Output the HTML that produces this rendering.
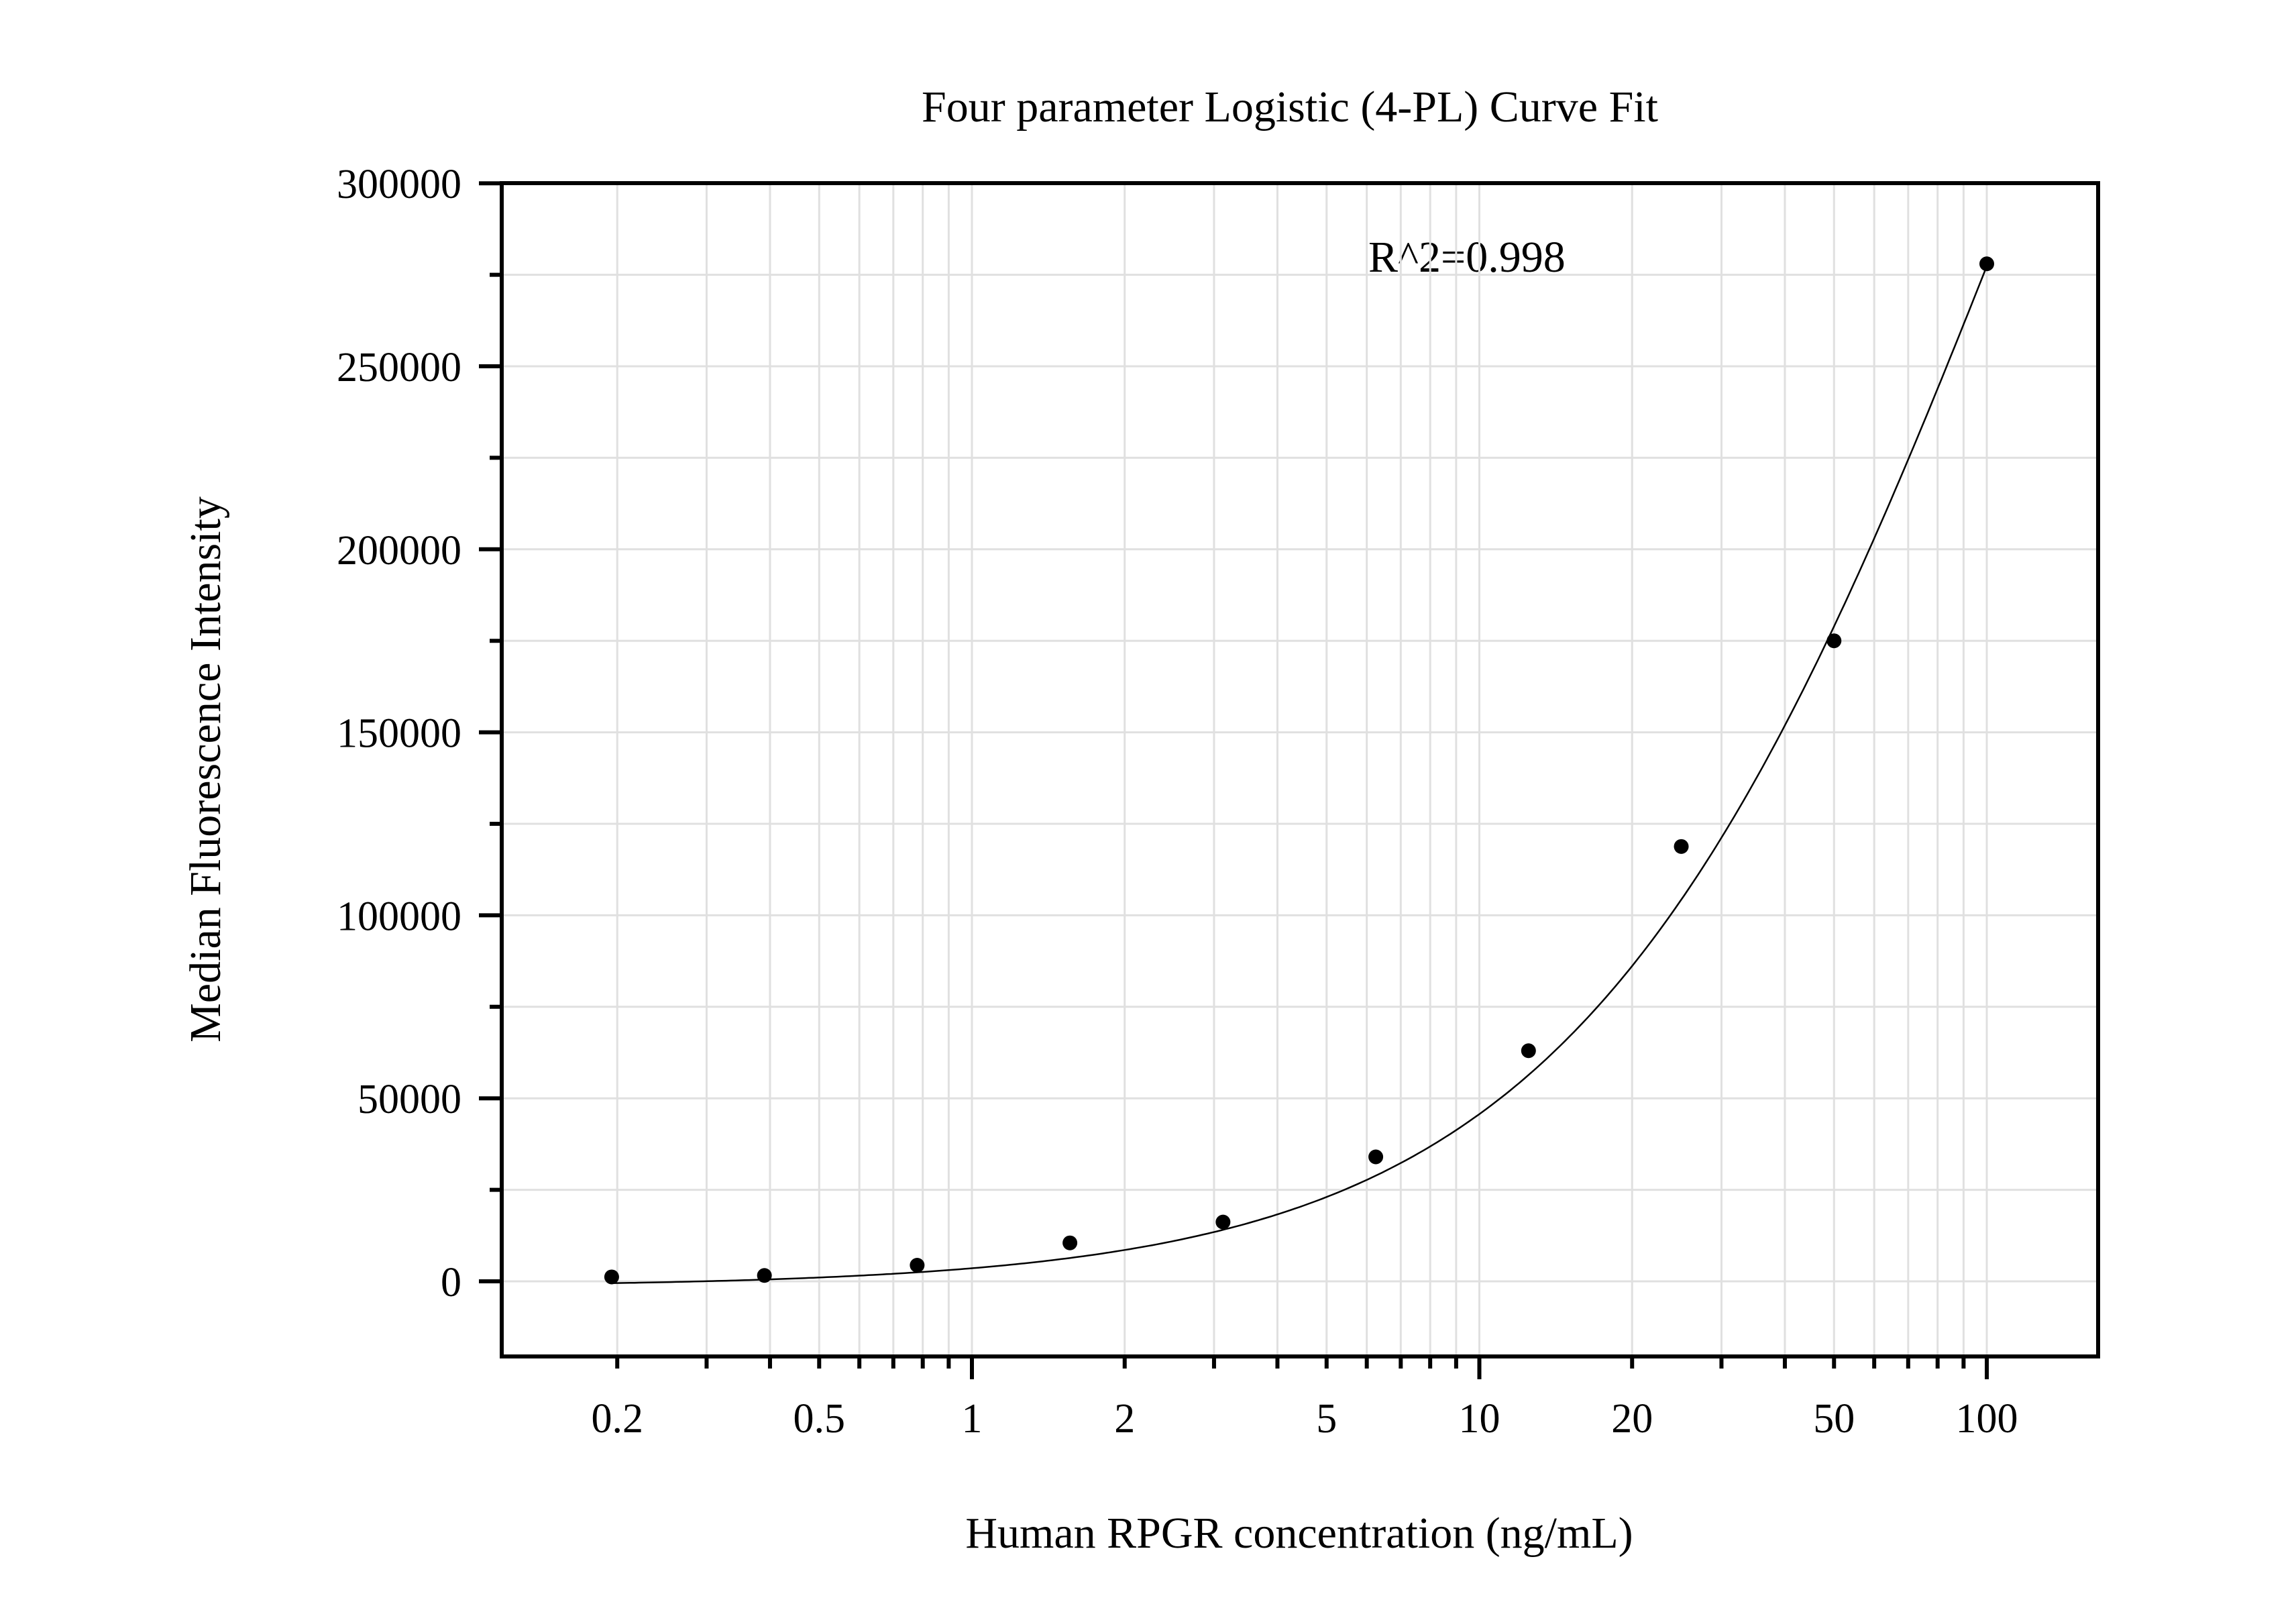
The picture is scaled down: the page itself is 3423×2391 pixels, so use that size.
<!DOCTYPE html>
<html><head><meta charset="utf-8">
<style>
html,body{margin:0;padding:0;background:#fff;}
svg{display:block;font-family:"Liberation Serif","Times New Roman",serif;}
</style></head>
<body>
<svg id="chart" width="3423" height="2391" viewBox="0 0 3423 2391" xmlns="http://www.w3.org/2000/svg">
<rect width="3423" height="2391" fill="#fff"/>
<text x="1923" y="181" font-size="66" text-anchor="middle">Four parameter Logistic (4-PL) Curve Fit</text>
<text x="2040" y="405" font-size="66">R^2=0.998</text>
<text x="1937" y="2307" font-size="66" text-anchor="middle">Human RPGR concentration (ng/mL)</text>
<text transform="translate(328,1147) rotate(-90)" font-size="66" text-anchor="middle">Median Fluorescence Intensity</text>
<g id="grid"></g>
<g id="marks"></g>
<g id="axes"></g>
</svg>
<script>
const concentrations = [0.195, 0.39, 0.78, 1.56, 3.125, 6.25, 12.5, 25, 50, 100];
const mfiValues = [1200, 1600, 4400, 10500, 16200, 34000, 63000, 118800, 175000, 278000];
const fitParams = [-1500, 1.0, 120, 612000]; // A, B, C, D
const xTickLabels = ["0.2", "0.5", "1", "2", "5", "10", "20", "50", "100"];
const xMajorDecades = [1, 10, 100];
const yTickLabels = ["0", "50000", "100000", "150000", "200000", "250000", "300000"];

const L = 748, R = 3128, T = 273, B = 2022;
const X1 = 1449, DEC = 756.5;
const Y0 = 1910, YPER = 272.8 / 50000;
const sx = v => X1 + Math.log10(v) * DEC;
const sy = v => Y0 - v * YPER;
const NS = "http://www.w3.org/2000/svg";
function mk(tag, attrs, parent) {
  const e = document.createElementNS(NS, tag);
  for (const k in attrs) e.setAttribute(k, attrs[k]);
  parent.appendChild(e);
  return e;
}
const grid = document.getElementById('grid');
const marks = document.getElementById('marks');
const axes = document.getElementById('axes');

// x minor values
const xMinors = [];
for (let d = 0.1; d <= 100; d *= 10) {
  for (let m = 1; m <= 9; m++) {
    const v = +(m * d).toPrecision(3);
    if (sx(v) > L + 3 && sx(v) < R - 3) xMinors.push(v);
  }
}
xMinors.forEach(v => {
  const g = mk('line', {x1: sx(v), x2: sx(v), y1: T, y2: B, stroke: '#e0e0e0', 'stroke-width': 3}, grid);
  
  
  const major = xMajorDecades.includes(v);
  const t = mk('line', {x1: sx(v), x2: sx(v), y1: B, y2: B + (major ? 34 : 18), stroke: '#000', 'stroke-width': 6}, axes);
  
  
});
xTickLabels.forEach(s => {
  const t = mk('text', {x: sx(parseFloat(s)), y: 2135, 'font-size': 62, 'text-anchor': 'middle'}, axes);
  t.textContent = s;
  
  
});
// y ticks
for (let v = -25000; v <= 300000; v += 25000) {
  const y = sy(v);
  if (y > B || y < T - 1) continue;
  const major = v % 50000 === 0;
  if (y > T + 3) {
    const g = mk('line', {x1: L, x2: R, y1: y, y2: y, stroke: '#e0e0e0', 'stroke-width': 3}, grid);
    
    
  }
  const t = mk('line', {x1: L - (major ? 34 : 18), x2: L, y1: y, y2: y, stroke: '#000', 'stroke-width': 6}, axes);
  
  
}
yTickLabels.forEach(s => {
  const t = mk('text', {x: 688, y: sy(parseFloat(s)) + 22, 'font-size': 62, 'text-anchor': 'end'}, axes);
  t.textContent = s;
  
  
});
// frame
const fr = mk('rect', {x: L, y: T, width: R - L, height: B - T, fill: 'none', stroke: '#000', 'stroke-width': 6}, axes);



// fit curve
const [A, Bp, C, D] = fitParams;
const f = x => D + (A - D) / (1 + Math.pow(x / C, Bp));
let d = '';
const lo = Math.log10(concentrations[0]), hi = Math.log10(concentrations[concentrations.length - 1]);
for (let i = 0; i <= 300; i++) {
  const x = Math.pow(10, lo + (hi - lo) * i / 300);
  d += (i ? 'L' : 'M') + sx(x).toFixed(1) + ',' + sy(f(x)).toFixed(1);
}
const curve = mk('path', {d: d, fill: 'none', stroke: '#000', 'stroke-width': 2.5}, marks);



concentrations.forEach((c, i) => {
  const p = mk('circle', {cx: sx(c), cy: sy(mfiValues[i]), r: 11, fill: '#000'}, marks);
  
  
});
</script>
</body></html>
